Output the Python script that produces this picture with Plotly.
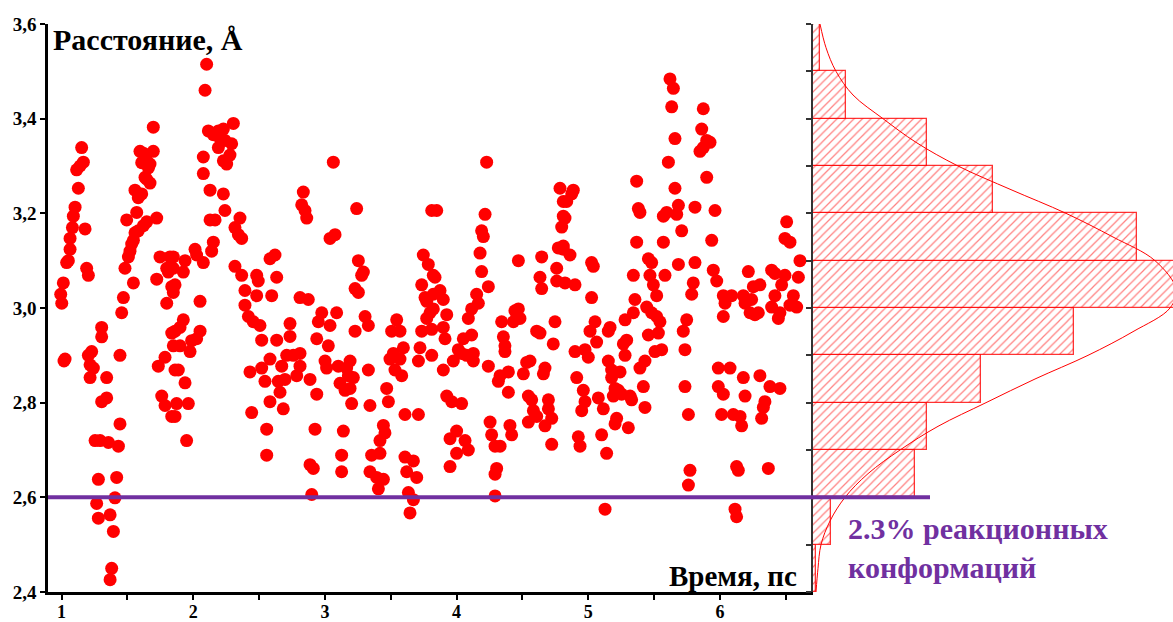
import plotly.graph_objects as go

# ---------------- scatter data: time (ps) / distance (Å) ----------------
TIME_1 = [0.994, 1.002, 1.014, 1.019, 1.027, 1.039, 1.052, 1.065, 1.065, 1.083, 1.09, 1.103, 1.128, 1.115,
          1.141, 1.166, 1.153, 1.179, 1.191, 1.204, 1.204, 1.217, 1.229, 1.242, 1.217, 1.305, 1.305, 1.343,
          1.305, 1.343, 1.255, 1.293, 1.356, 1.432, 1.444, 1.28, 1.419, 1.267, 1.406, 1.369, 1.28, 1.394,
          1.381, 1.369,
          1.444, 1.457, 1.47, 1.482, 1.508, 1.52, 1.533, 1.546, 1.558, 1.583, 1.495, 1.546, 1.571, 1.558,
          1.583, 1.609, 1.622, 1.647, 1.647, 1.672, 1.634, 1.596, 1.622, 1.647, 1.672, 1.697, 1.609, 1.66,
          1.697, 1.723,
          1.723, 1.748, 1.799, 1.811, 1.837, 1.824, 1.799, 1.735, 1.786, 1.761, 1.786, 1.837, 1.849, 1.862,
          1.837]
DIST_1 = [3.029, 3.010, 3.053, 2.888, 2.892, 3.096, 3.100, 3.124, 3.147, 3.170, 3.194, 3.213, 3.253, 3.292,
          3.300, 3.308, 3.339, 3.167, 3.084, 3.069, 2.900, 2.880, 2.908, 2.873, 2.853, 2.959, 2.939, 2.853,
          2.802, 2.810, 2.720, 2.720, 2.716, 2.708, 2.755, 2.638, 2.642, 2.587, 2.599, 2.563, 2.556, 2.528,
          2.450, 2.426,
          2.900, 2.990, 3.022, 3.084, 3.108, 3.120, 3.135, 3.143, 3.159, 3.163, 3.186, 3.053, 3.202, 3.249,
          3.233, 3.241, 3.174, 3.182, 3.272, 3.264, 3.276, 3.331, 3.327, 3.311, 3.304, 3.331, 3.307, 3.296,
          3.382, 3.190,
          3.061, 3.108, 3.084, 3.076, 3.045, 3.108, 3.010, 2.877, 2.896, 2.814, 2.794, 2.947, 2.920, 2.869,
          2.771]

TIME_2 = [2.102, 2.09, 2.115, 2.153, 2.191, 2.229, 2.305, 2.204, 2.241, 2.292, 2.191, 2.279, 2.254, 2.229,
          2.077, 2.077, 2.128, 2.229, 2.241, 2.128, 2.166, 2.153, 2.14, 2.317, 2.343, 2.355, 2.368,
          2.014, 2.026, 2.077, 1.938, 1.925, 1.849, 1.849, 1.862, 1.849, 2.052, 1.925, 1.9, 1.862, 2.052,
          2.026, 1.988, 1.976, 1.9, 1.887, 1.938, 1.963, 1.874, 1.862, 1.95,
          2.317, 2.368, 2.393, 2.482, 2.494, 2.482, 2.583, 2.621, 2.634, 2.596, 2.393, 2.419, 2.456, 2.507,
          2.52, 2.431, 2.52, 2.545, 2.583, 2.634, 2.646, 2.672, 2.71, 2.735, 2.735, 2.76, 2.786, 2.697,
          2.583, 2.659, 2.684, 2.444, 2.558, 2.558]
DIST_2 = [3.515, 3.460, 3.374, 3.366, 3.374, 3.378, 3.390, 3.358, 3.354, 3.347, 3.339, 3.323, 3.304, 3.311,
          3.319, 3.284, 3.249, 3.241, 3.206, 3.186, 3.186, 3.139, 3.120, 3.170, 3.155, 3.190, 3.147,
          3.124, 3.112, 3.096, 3.100, 3.076, 3.108, 3.084, 3.049, 3.033, 3.014, 2.975, 2.959, 2.951, 2.951,
          2.935, 2.931, 2.908, 2.920, 2.869, 2.842, 2.798, 2.798, 2.771, 2.720,
          3.088, 3.069, 3.037, 3.069, 3.057, 3.026, 3.104, 3.112, 3.065, 3.026, 3.006, 2.982, 2.971, 2.963,
          2.932, 2.865, 2.873, 2.845, 2.892, 2.932, 2.845, 2.877, 2.900, 2.967, 2.940, 2.900, 2.857, 2.849,
          2.802, 2.822, 2.787, 2.779, 2.744, 2.689]

TIME_3 = [3.064, 2.836, 2.824, 2.849, 2.862, 3.241, 3.039, 3.077, 3.811, 3.254, 3.292, 3.279, 3.229, 3.254,
          3.747, 3.785, 3.823, 3.735, 3.76, 3.773, 3.823, 3.798, 3.773, 3.811, 3.735, 3.722, 3.811, 3.71,
          2.811, 2.874, 2.976, 3.089, 2.95, 3.039, 3.305, 3.33, 3.229, 3.545, 3.507, 3.57, 2.938, 3.026,
          3.52, 3.596, 3.57, 3.494, 3.532, 3.583, 2.811, 2.811,
          3.001, 3.013, 3.102, 3.165, 3.191, 3.178, 3.216, 3.33, 2.887, 3.115, 3.153, 3.191, 2.938, 3.203,
          3.342, 3.469, 3.482, 3.608, 3.71, 2.925, 3.14, 3.444, 3.456, 3.418,
          2.887, 2.912, 3.127, 3.127, 3.355, 3.418, 3.342, 3.393, 3.444, 3.406, 3.608, 3.672, 3.621, 3.697,
          3.634, 3.672, 3.646, 2.9]
DIST_3 = [3.308, 3.245, 3.218, 3.206, 3.190, 3.210, 3.147, 3.155, 3.206, 3.100, 3.076, 3.069, 3.041, 3.033,
          3.112, 3.092, 3.069, 3.049, 3.022, 3.014, 3.029, 2.990, 2.978, 2.955, 2.951, 2.916, 2.900, 2.888,
          3.022, 3.018, 2.990, 2.990, 2.971, 2.963, 2.982, 2.963, 2.951, 2.975, 2.951, 2.951, 2.935, 2.920,
          2.904, 2.916, 2.892, 2.892, 2.869, 2.857, 2.904, 2.877,
          2.888, 2.873, 2.877, 2.873, 2.888, 2.857, 2.853, 2.869, 2.849, 2.841, 2.826, 2.830, 2.818, 2.798,
          2.794, 2.830, 2.802, 2.775, 2.775, 2.744, 2.740, 2.752, 2.736, 2.720,
          2.669, 2.661, 2.689, 2.654, 2.689, 2.693, 2.654, 2.642, 2.638, 2.618, 2.685, 2.677, 2.654, 2.642,
          2.610, 2.595, 2.567, 2.606]

TIME_4 = [4.228, 3.849, 4.216, 4.19, 4.203, 4.178, 4.19, 4.241, 4.152, 4.165, 4.114, 4.089,
          3.836, 3.874, 3.899, 3.823, 3.925, 3.899, 3.912, 3.899, 3.975, 4.013, 4.051, 4.114, 4.038, 4.076,
          4.127, 4.127, 4.241, 4.33, 4.393, 4.317, 4.393, 4.342, 4.355, 4.367, 4.367, 4.443, 4.469, 4.431,
          4.481, 4.469, 4.532, 4.557, 4.507, 4.608, 4.633, 4.671, 4.659, 4.646, 4.633, 4.646, 4.747, 4.734,
          4.785, 4.81, 4.81, 4.798, 4.772, 4.81, 4.76, 4.76, 4.823,
          3.925, 3.963, 4.038, 3.95, 4.0, 4.064, 4.089, 4.0, 3.95, 4.254, 4.266, 4.292, 4.33, 4.304, 4.292,
          4.292, 4.405, 4.418, 4.545, 4.57, 4.583, 4.608, 4.545, 4.697, 4.697, 4.722, 4.671, 4.722]
DIST_4 = [3.308, 3.206, 3.198, 3.163, 3.151, 3.116, 3.077, 3.045, 3.029, 3.010, 2.998, 2.978,
          3.065, 3.037, 3.018, 2.998, 2.986, 2.959, 2.935, 2.869, 2.888, 2.912, 2.935, 2.943, 2.904, 2.900,
          2.904, 2.888, 2.877, 2.857, 2.865, 2.845, 2.822, 2.971, 2.939, 2.920, 2.908, 2.994, 2.998, 2.971,
          2.978, 3.100, 2.885, 2.888, 2.861, 2.951, 2.947, 2.873, 2.861, 3.108, 3.065, 3.041, 2.971, 2.924,
          3.253, 3.225, 3.194, 3.171, 3.127, 3.124, 3.084, 3.057, 3.053,
          2.814, 2.802, 2.798, 2.724, 2.740, 2.720, 2.700, 2.693, 2.665, 2.759, 2.732, 2.708, 2.708, 2.661,
          2.649, 2.603, 2.752, 2.732, 2.814, 2.806, 2.783, 2.771, 2.759, 2.806, 2.787, 2.767, 2.751, 2.712]

TIME_5 = [4.836, 4.886, 4.874, 4.861, 4.899, 4.823, 4.81,
          5.025, 5.038, 5.025, 5.051, 5.013, 5.063, 5.0, 4.975, 4.899, 4.912, 4.962, 4.975, 4.95, 4.924,
          4.937,
          5.165, 5.152, 5.152, 5.177, 5.177, 5.241, 5.203, 5.228, 5.19, 5.253, 5.317, 5.329, 5.076, 5.114,
          5.101, 5.139, 5.215, 5.203, 5.304, 5.127,
          5.279, 5.342, 5.266, 5.291, 5.279, 5.392, 5.43, 5.418, 5.43,
          5.367, 5.38, 5.392, 5.367, 5.342, 5.354,
          5.456, 5.481, 5.468, 5.494, 5.519, 5.443, 5.481, 5.519, 5.544, 5.532, 5.456, 5.506, 5.557,
          5.57, 5.582, 5.684, 5.57, 5.595, 5.671, 5.684, 5.709, 5.658, 5.608, 5.658, 5.633, 5.646, 5.62,
          5.785, 5.747, 5.721, 5.734, 5.734, 5.76, 5.772, 5.76]
DIST_5 = [3.225, 3.249, 3.241, 3.112, 3.049, 3.190, 3.131,
          3.096, 3.088, 3.022, 2.971, 2.951, 2.928, 2.896, 2.912, 2.908, 2.853, 2.826, 2.802, 2.783, 2.728,
          2.708,
          2.959, 2.951, 2.888, 2.869, 2.853, 2.865, 2.830, 2.826, 2.814, 2.818, 2.814, 2.806, 2.810, 2.787,
          2.732, 2.693, 2.767, 2.755, 2.747, 2.575,
          2.975, 2.990, 2.924, 2.932, 2.900, 2.873, 2.888, 2.834, 2.790,
          3.268, 3.210, 3.202, 3.139, 3.069, 3.018,
          3.104, 3.096, 3.069, 3.049, 3.026, 3.002, 2.990, 2.982, 2.971, 2.947, 2.943, 2.908, 2.912,
          3.139, 3.069, 3.092, 3.194, 3.202, 3.198, 3.217, 3.163, 3.253, 3.308, 3.358, 3.425, 3.464, 3.484,
          3.029, 2.975, 2.951, 2.912, 2.834, 2.775, 2.657, 2.626]

TIME_6 = [5.873, 5.861, 5.899, 5.924, 5.873, 5.848, 5.899, 5.81, 5.962, 5.937, 5.81, 5.949, 5.797,
          5.975, 6.025, 6.038, 6.025, 6.088, 6.076, 5.987, 5.987, 6.025, 6.012, 6.101, 6.152, 6.164, 6.126,
          6.139, 6.114, 6.126,
          6.177, 6.215, 6.19, 6.24, 6.228, 6.265, 6.291, 6.253, 6.303, 6.177, 6.19, 6.303, 6.379, 6.455,
          6.341, 6.329, 6.316, 6.367,
          6.392, 6.417, 6.493, 6.468, 6.417, 6.392, 6.455, 6.443, 6.506, 6.493, 6.531, 6.557, 6.531, 6.582,
          6.595, 6.607]
DIST_6 = [3.421, 3.378, 3.354, 3.350, 3.339, 3.331, 3.276, 3.213, 3.206, 3.143, 3.096, 3.080, 3.053,
          3.057, 3.026, 3.010, 2.982, 3.026, 2.873, 2.873, 2.834, 2.818, 2.775, 2.775, 2.771, 2.751, 2.665,
          2.657, 2.575, 2.559,
          3.026, 3.077, 3.010, 3.018, 2.990, 2.986, 2.990, 3.045, 3.049, 2.853, 2.814, 2.857, 2.834, 2.830,
          2.802, 2.790, 2.767, 2.661,
          3.080, 3.073, 3.069, 3.049, 3.026, 3.002, 2.990, 2.978, 3.182, 3.147, 3.139, 3.026, 3.006, 3.002,
          3.065, 3.100]

TIME = TIME_1 + TIME_2 + TIME_3 + TIME_4 + TIME_5 + TIME_6
DIST = DIST_1 + DIST_2 + DIST_3 + DIST_4 + DIST_5 + DIST_6

# ---------------- histogram (right panel) ----------------
BIN_CENTERS = [2.45, 2.55, 2.65, 2.75, 2.85, 2.95, 3.05, 3.15, 3.25, 3.35, 3.45, 3.55]
BIN_VALUES = [3, 18, 102, 114, 168, 261, 375, 324, 180, 114, 33, 7]

CURVE_Y = [2.40, 2.45, 2.50, 2.55, 2.60, 2.65, 2.70, 2.75, 2.80, 2.85, 2.90, 2.95, 3.00, 3.04,
           3.10, 3.15, 3.20, 3.25, 3.30, 3.35, 3.40, 3.45, 3.50, 3.55, 3.60]
CURVE_X = [3, 5, 8, 17, 32, 55, 87, 125, 173, 222, 275, 320, 357, 363,
           342, 300, 253, 198, 145, 103, 70, 40, 23, 13, 7]

THRESHOLD = 2.6
Y_TICKS = [2.4, 2.6, 2.8, 3.0, 3.2, 3.4, 3.6]
X_TICKS = [1, 2, 3, 4, 5, 6]

SERIF = "Liberation Serif"
PURPLE = "#7030a0"
RED = "#ff0000"

W, H = 1173, 622
ML, MR, MT, MB = 48, 0, 24, 30
plot_w = W - ML - MR
split = (813 - ML) / plot_w

fig = go.Figure()

fig.add_trace(go.Scatter(
    x=TIME, y=DIST, mode="markers",
    marker=dict(size=13, color=RED, line=dict(width=0)),
    xaxis="x", yaxis="y", showlegend=False, hoverinfo="x+y"))

fig.add_trace(go.Bar(
    y=BIN_CENTERS, x=BIN_VALUES, orientation="h", width=0.1,
    marker=dict(color="white", line=dict(color="rgba(255,0,0,0.8)", width=1.3),
                pattern=dict(shape="/", fgcolor=RED, bgcolor="white", size=6, solidity=0.2)),
    xaxis="x2", yaxis="y2", showlegend=False))

fig.add_trace(go.Scatter(
    x=CURVE_X, y=CURVE_Y, mode="lines",
    line=dict(color=RED, width=1, shape="spline"),
    xaxis="x2", yaxis="y2", showlegend=False))

ytickfont = dict(family=SERIF, size=19, color="black", weight="bold")
xtickfont = dict(family=SERIF, size=18, color="black", weight="bold")

fig.update_layout(
    width=W, height=H,
    margin=dict(l=ML, r=MR, t=MT, b=MB, autoexpand=False),
    paper_bgcolor="white", plot_bgcolor="white",
    separators=",.",
    bargap=0,
    xaxis=dict(domain=[0, split], range=[0.8975, 6.706], anchor="y", automargin=False,
               tickmode="array", tickvals=X_TICKS, ticks="outside", ticklen=5, tickwidth=2,
               tickcolor="black", showline=True, linecolor="black", linewidth=2.5,
               showgrid=False, zeroline=False, tickfont=xtickfont, ticklabelstandoff=-3,
               minor=dict(dtick=0.5, tick0=0.5, ticks="outside", ticklen=5, tickwidth=1.5,
                          tickcolor="black", showgrid=False)),
    yaxis=dict(range=[2.4, 3.6], anchor="x", tickmode="array", tickvals=Y_TICKS, automargin=False,
               tickformat=".1f", ticks="outside", ticklen=5, tickwidth=2, tickcolor="black",
               showline=True, linecolor="black", linewidth=2.5, showgrid=False, zeroline=False,
               tickfont=ytickfont),
    xaxis2=dict(domain=[split, 1], range=[0, 360], anchor="y2", visible=False, automargin=False),
    yaxis2=dict(range=[2.4, 3.6], anchor="x2", dtick=0.1, tick0=2.4, ticks="outside", automargin=False,
                ticklen=5, tickwidth=1.5, tickcolor="#333", showline=True, linecolor="#333",
                linewidth=1.5, showticklabels=False, showgrid=False, zeroline=False),
    shapes=[dict(type="line", xref="paper", yref="y", x0=0, x1=(930 - ML) / plot_w,
                 y0=THRESHOLD, y1=THRESHOLD, line=dict(color=PURPLE, width=4), layer="above")],
    annotations=[
        dict(text="<b>Расстояние, Å</b>", xref="paper", yref="y", x=(51 - ML) / plot_w, y=3.568,
             xanchor="left", yanchor="middle", showarrow=False,
             font=dict(family=SERIF, size=30, color="black")),
        dict(text="<b>Время, пс</b>", xref="x", yref="y", x=6.596, y=2.433,
             xanchor="right", yanchor="middle", showarrow=False,
             font=dict(family=SERIF, size=29, color="black")),
        dict(text="<b>2.3% реакционных<br>конформаций</b>", xref="paper", yref="y",
             x=(846 - ML) / plot_w, y=2.493, xanchor="left", yanchor="middle", align="left",
             showarrow=False, font=dict(family=SERIF, size=30, color=PURPLE)),
    ],
)

fig.write_html("out.html")
